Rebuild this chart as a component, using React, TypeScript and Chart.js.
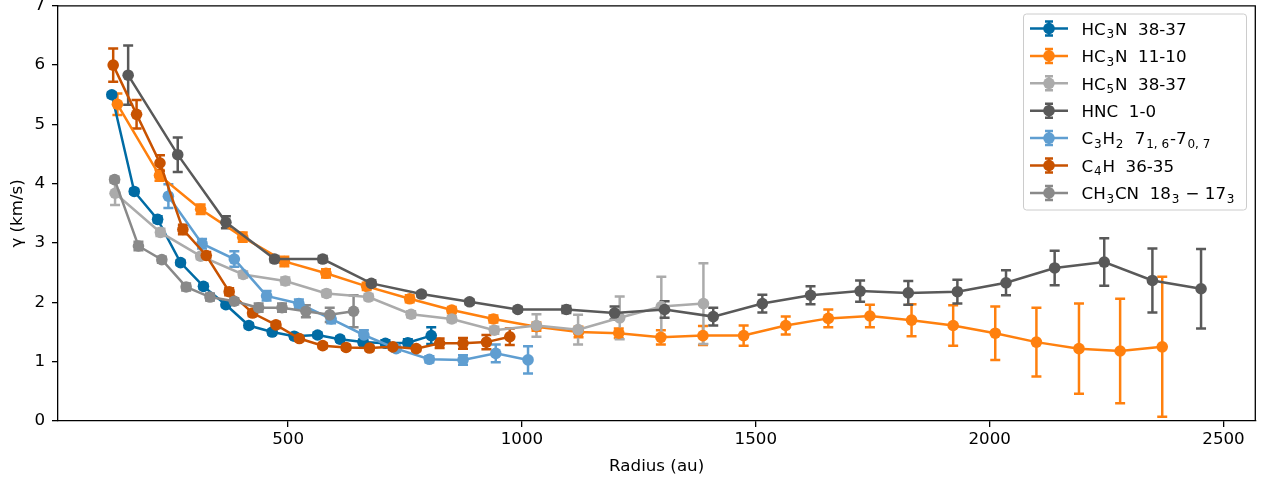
import React, { useEffect, useRef } from 'react';
import { Chart, registerables } from 'chart.js';

Chart.register(...registerables);

// ---- data: radius (au), velocity dispersion gamma (km/s), 1-sigma errors ----
const HC3N_38_R = [123, 171, 221, 270, 319, 367, 416, 466, 513, 563, 611, 660, 708, 756, 806];
const HC3N_38_V = [5.5, 3.87, 3.4, 2.67, 2.27, 1.96, 1.61, 1.5, 1.43, 1.45, 1.38, 1.33, 1.31, 1.32, 1.44];
const HC3N_38_E = [0.04, 0.04, 0.05, 0.04, 0.04, 0.04, 0.04, 0.04, 0.04, 0.04, 0.04, 0.04, 0.05, 0.06, 0.14];

const HC3N_11_R = [135, 225, 313, 403, 492, 581, 668, 760, 850, 939, 1031, 1121, 1207, 1297, 1387, 1474, 1564, 1655, 1744, 1833, 1922, 2012, 2100, 2191, 2279, 2369];
const HC3N_11_V = [5.34, 4.14, 3.57, 3.1, 2.69, 2.49, 2.27, 2.06, 1.87, 1.72, 1.59, 1.5, 1.48, 1.41, 1.44, 1.44, 1.61, 1.73, 1.77, 1.7, 1.61, 1.48, 1.33, 1.22, 1.18, 1.25];
const HC3N_11_E = [0.18, 0.09, 0.08, 0.08, 0.08, 0.07, 0.06, 0.06, 0.05, 0.06, 0.07, 0.09, 0.08, 0.12, 0.16, 0.17, 0.15, 0.15, 0.19, 0.27, 0.34, 0.45, 0.58, 0.76, 0.88, 1.18];

const HC5N_R = [130, 227, 313, 404, 494, 582, 672, 763, 850, 941, 1031, 1120, 1209, 1298, 1388];
const HC5N_V = [3.84, 3.18, 2.78, 2.47, 2.36, 2.15, 2.09, 1.8, 1.72, 1.53, 1.61, 1.54, 1.74, 1.93, 1.98];
const HC5N_E = [0.2, 0.06, 0.05, 0.05, 0.06, 0.05, 0.05, 0.05, 0.05, 0.06, 0.19, 0.25, 0.36, 0.5, 0.68];

const HNC_R = [158, 264, 367, 471, 574, 678, 785, 888, 991, 1095, 1198, 1305, 1409, 1514, 1617, 1723, 1826, 1931, 2035, 2139, 2245, 2348, 2452];
const HNC_V = [5.83, 4.49, 3.35, 2.73, 2.73, 2.32, 2.14, 2.01, 1.88, 1.88, 1.82, 1.88, 1.76, 1.98, 2.12, 2.19, 2.16, 2.18, 2.33, 2.58, 2.68, 2.37, 2.23];
const HNC_E = [0.5, 0.29, 0.1, 0.05, 0.05, 0.05, 0.04, 0.04, 0.04, 0.06, 0.11, 0.14, 0.15, 0.15, 0.15, 0.18, 0.2, 0.2, 0.21, 0.29, 0.4, 0.54, 0.67];

const C3H2_R = [244, 316, 385, 454, 523, 592, 662, 731, 802, 874, 944, 1013];
const C3H2_V = [3.79, 2.99, 2.73, 2.11, 1.98, 1.72, 1.45, 1.22, 1.04, 1.03, 1.14, 1.03];
const C3H2_E = [0.2, 0.08, 0.13, 0.08, 0.07, 0.07, 0.08, 0.05, 0.05, 0.08, 0.15, 0.23];

const C4H_R = [126, 176, 226, 275, 325, 374, 424, 474, 524, 574, 624, 674, 724, 774, 824, 874, 924, 974];
const C4H_V = [6.0, 5.17, 4.35, 3.23, 2.79, 2.18, 1.82, 1.62, 1.39, 1.27, 1.24, 1.23, 1.25, 1.22, 1.31, 1.31, 1.33, 1.42];
const C4H_E = [0.28, 0.24, 0.13, 0.08, 0.06, 0.06, 0.05, 0.05, 0.04, 0.04, 0.04, 0.04, 0.04, 0.04, 0.08, 0.09, 0.12, 0.14];

const CH3CN_R = [129, 180, 230, 282, 333, 385, 437, 487, 538, 589, 640];
const CH3CN_V = [4.07, 2.95, 2.72, 2.26, 2.09, 2.02, 1.91, 1.91, 1.85, 1.79, 1.85];
const CH3CN_E = [0.05, 0.07, 0.05, 0.06, 0.06, 0.05, 0.07, 0.07, 0.1, 0.12, 0.27];

// legend labels; "_{...}" marks a subscript
const LABELS = [
  'HC_{3}N  38-37',
  'HC_{3}N  11-10',
  'HC_{5}N  38-37',
  'HNC  1-0',
  'C_{3}H_{2}  7_{1, 6}-7_{0, 7}',
  'C_{4}H  36-35',
  'CH_{3}CN  18_{3} \u2212 17_{3}',
];
const COLORS = ['#006BA4', '#FF800E', '#ABABAB', '#595959', '#5F9ED1', '#C85200', '#898989'];

const X_TICKS = [500, 1000, 1500, 2000, 2500];
const X_MIN = 8;
const X_MAX = 2568;
const Y_MIN = 0;
const Y_MAX = 7;

const FONT = "'DejaVu Sans', sans-serif";
const FS = 16.7;
const LW = 2.5;
const CAP = 5;
const MARKER_R = 5.8;

const SERIES = [
  [HC3N_38_R, HC3N_38_V, HC3N_38_E],
  [HC3N_11_R, HC3N_11_V, HC3N_11_E],
  [HC5N_R, HC5N_V, HC5N_E],
  [HNC_R, HNC_V, HNC_E],
  [C3H2_R, C3H2_V, C3H2_E],
  [C4H_R, C4H_V, C4H_E],
  [CH3CN_R, CH3CN_V, CH3CN_E],
];

function parseLabel(s: string) {
  const out: { t: string; sub: boolean }[] = [];
  const re = /_\{([^}]*)\}/g;
  let last = 0;
  let m: RegExpExecArray | null;
  while ((m = re.exec(s))) {
    if (m.index > last) out.push({ t: s.slice(last, m.index), sub: false });
    out.push({ t: m[1], sub: true });
    last = re.lastIndex;
  }
  if (last < s.length) out.push({ t: s.slice(last), sub: false });
  return out;
}

// vertical error bars with caps, drawn beneath all lines and markers
const errorBarPlugin = {
  id: 'errorBars',
  beforeDatasetsDraw(chart: any) {
    const { ctx, chartArea, scales } = chart;
    const xs = scales.x;
    const ys = scales.y;
    ctx.save();
    ctx.beginPath();
    ctx.rect(chartArea.left, chartArea.top, chartArea.right - chartArea.left, chartArea.bottom - chartArea.top);
    ctx.clip();
    ctx.lineWidth = LW;
    ctx.lineCap = 'butt';
    chart.data.datasets.forEach((ds: any) => {
      ctx.strokeStyle = ds.borderColor;
      ds.data.forEach((p: any) => {
        const px = xs.getPixelForValue(p.x);
        const top = ys.getPixelForValue(p.y + p.err);
        const bot = ys.getPixelForValue(p.y - p.err);
        ctx.beginPath();
        ctx.moveTo(px, top);
        ctx.lineTo(px, bot);
        ctx.moveTo(px - CAP, top);
        ctx.lineTo(px + CAP, top);
        ctx.moveTo(px - CAP, bot);
        ctx.lineTo(px + CAP, bot);
        ctx.stroke();
      });
    });
    ctx.restore();
  },
};

// top and right spines to close the frame
const framePlugin = {
  id: 'frame',
  afterDraw(chart: any) {
    const { ctx, chartArea } = chart;
    ctx.save();
    ctx.strokeStyle = '#000';
    ctx.lineWidth = 1.3;
    ctx.beginPath();
    ctx.moveTo(chartArea.left, chartArea.top);
    ctx.lineTo(chartArea.right, chartArea.top);
    ctx.lineTo(chartArea.right, chartArea.bottom);
    ctx.stroke();
    ctx.restore();
  },
};

// legend box with errorbar handles and subscripted labels
const legendPlugin = {
  id: 'errLegend',
  afterDraw(chart: any) {
    const { ctx } = chart;
    const bx = 1023.5;
    const by = 14;
    const bw = 223;
    const bh = 196;
    ctx.save();
    ctx.beginPath();
    (ctx as any).roundRect(bx, by, bw, bh, 3);
    ctx.fillStyle = 'rgba(255,255,255,0.8)';
    ctx.fill();
    ctx.strokeStyle = '#cccccc';
    ctx.lineWidth = 1;
    ctx.stroke();

    const rowY0 = 28.5;
    const rowStep = 27.4;
    const hx0 = 1030;
    const hx1 = 1068;
    const hc = (hx0 + hx1) / 2;
    const textX = 1081.5;
    chart.data.datasets.forEach((ds: any, i: number) => {
      const y = rowY0 + i * rowStep;
      ctx.strokeStyle = ds.borderColor;
      ctx.fillStyle = ds.borderColor;
      ctx.lineWidth = LW;
      ctx.beginPath();
      ctx.moveTo(hx0, y);
      ctx.lineTo(hx1, y);
      ctx.moveTo(hc, y - 7);
      ctx.lineTo(hc, y + 7);
      ctx.moveTo(hc - 4, y - 7);
      ctx.lineTo(hc + 4, y - 7);
      ctx.moveTo(hc - 4, y + 7);
      ctx.lineTo(hc + 4, y + 7);
      ctx.stroke();
      ctx.beginPath();
      ctx.arc(hc, y, MARKER_R, 0, Math.PI * 2);
      ctx.fill();

      ctx.fillStyle = '#000';
      ctx.textBaseline = 'alphabetic';
      ctx.textAlign = 'left';
      let x = textX;
      const base = y + 6.2;
      parseLabel(ds.label).forEach((seg) => {
        if (seg.sub) {
          ctx.font = `${FS * 0.72}px ${FONT}`;
          ctx.fillText(seg.t, x + 0.8, base + 3.5);
          x += ctx.measureText(seg.t).width + 1.6;
        } else {
          ctx.font = `${FS}px ${FONT}`;
          ctx.fillText(seg.t, x, base);
          x += ctx.measureText(seg.t).width;
        }
      });
    });
    ctx.restore();
  },
};

export default function App() {
  const ref = useRef<HTMLCanvasElement>(null);

  useEffect(() => {
    document.body.style.margin = '0';
    const datasets = SERIES.map(([r, v, e], i) => ({
      label: LABELS[i],
      data: r.map((x, k) => ({ x, y: v[k], err: e[k] })),
      borderColor: COLORS[i],
      backgroundColor: COLORS[i],
      pointBackgroundColor: COLORS[i],
      pointBorderWidth: 0,
      pointRadius: MARKER_R,
      borderWidth: LW,
      tension: 0,
      order: -i,
    }));

    const chart = new Chart(ref.current as HTMLCanvasElement, {
      type: 'line',
      data: { datasets } as any,
      options: {
        animation: false,
        responsive: false,
        layout: { padding: { left: 0, right: 13.7, top: 5, bottom: 0 } },
        plugins: {
          legend: { display: false },
          tooltip: { enabled: false },
        },
        scales: {
          x: {
            type: 'linear',
            min: X_MIN,
            max: X_MAX,
            afterBuildTicks: (scale: any) => {
              scale.ticks = X_TICKS.map((value) => ({ value }));
            },
            afterFit: (scale: any) => {
              scale.height = 59;
              scale.paddingLeft = 0;
              scale.paddingRight = 0;
            },
            grid: { drawOnChartArea: false, drawTicks: true, tickLength: 6, color: '#000', lineWidth: 1.3 },
            border: { display: true, color: '#000', width: 1.3 },
            ticks: {
              color: '#000',
              font: { family: FONT, size: FS },
              padding: 3,
              maxRotation: 0,
              callback: (v: any) => String(v),
            },
            title: {
              display: true,
              text: 'Radius (au)',
              color: '#000',
              font: { family: FONT, size: FS },
              padding: { top: 0, bottom: 3.3 },
            },
          },
          y: {
            type: 'linear',
            min: Y_MIN,
            max: Y_MAX,
            afterFit: (scale: any) => {
              scale.width = 58;
              scale.paddingTop = 0;
              scale.paddingBottom = 0;
            },
            grid: { drawOnChartArea: false, drawTicks: true, tickLength: 6, color: '#000', lineWidth: 1.3 },
            border: { display: true, color: '#000', width: 1.3 },
            ticks: {
              stepSize: 1,
              color: '#000',
              font: { family: FONT, size: FS },
              padding: 7,
            },
            title: {
              display: true,
              text: '\u03b3 (km/s)',
              color: '#000',
              font: { family: FONT, size: FS },
              padding: { top: 7.5, bottom: 0 },
            },
          },
        },
      },
      plugins: [errorBarPlugin, framePlugin, legendPlugin],
    } as any);

    return () => chart.destroy();
  }, []);

  return (
    <div style={{ width: 1269, height: 480 }}>
      <canvas ref={ref} width={1269} height={480} style={{ display: 'block' }} />
    </div>
  );
}
